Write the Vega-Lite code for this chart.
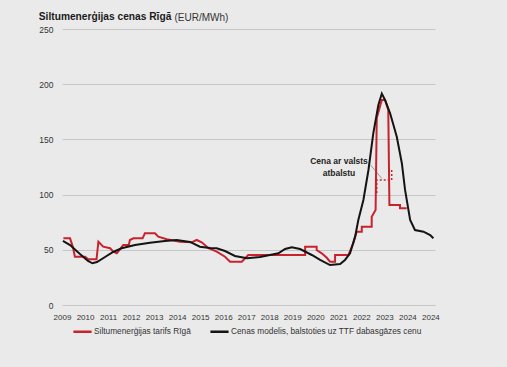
{
  "$schema": "https://vega.github.io/schema/vega-lite/v6.json",
  "width": 373,
  "height": 276,
  "autosize": {"type": "none"},
  "padding": {"left": 62, "top": 29, "right": 72, "bottom": 62},
  "background": "#eaeaea",
  "config": {
    "view": {"stroke": null},
    "font": "Liberation Sans",
    "axis": {"labelFont": "Liberation Sans", "labelColor": "#333333", "labelFontSize": 8.5, "ticks": false, "domain": false}
  },
  "title": {
    "text": "Siltumenerģijas cenas Rīgā",
    "anchor": "start",
    "frame": "bounds",
    "fontSize": 10.2,
    "fontWeight": "bold",
    "color": "#1a1a1a",
    "font": "Liberation Sans",
    "offset": -10
  },
  "datasets": {
    "lines": [
      {"s": "Siltumenerģijas tarifs Rīgā", "i": 1, "t": 0.06, "v": 60.4},
      {"s": "Siltumenerģijas tarifs Rīgā", "i": 2, "t": 0.35, "v": 60.4},
      {"s": "Siltumenerģijas tarifs Rīgā", "i": 3, "t": 0.48, "v": 52},
      {"s": "Siltumenerģijas tarifs Rīgā", "i": 4, "t": 0.56, "v": 43.7},
      {"s": "Siltumenerģijas tarifs Rīgā", "i": 5, "t": 1.0, "v": 43.7},
      {"s": "Siltumenerģijas tarifs Rīgā", "i": 6, "t": 1.14, "v": 41.4},
      {"s": "Siltumenerģijas tarifs Rīgā", "i": 7, "t": 1.5, "v": 41.4},
      {"s": "Siltumenerģijas tarifs Rīgā", "i": 8, "t": 1.58, "v": 57.3},
      {"s": "Siltumenerģijas tarifs Rīgā", "i": 9, "t": 1.79, "v": 52.8},
      {"s": "Siltumenerģijas tarifs Rīgā", "i": 10, "t": 2.09, "v": 51.4},
      {"s": "Siltumenerģijas tarifs Rīgā", "i": 11, "t": 2.23, "v": 48.3},
      {"s": "Siltumenerģijas tarifs Rīgā", "i": 12, "t": 2.38, "v": 46.8},
      {"s": "Siltumenerģijas tarifs Rīgā", "i": 13, "t": 2.66, "v": 54.3},
      {"s": "Siltumenerģijas tarifs Rīgā", "i": 14, "t": 2.9, "v": 54.3},
      {"s": "Siltumenerģijas tarifs Rīgā", "i": 15, "t": 2.95, "v": 58.9},
      {"s": "Siltumenerģijas tarifs Rīgā", "i": 16, "t": 3.1, "v": 60.4},
      {"s": "Siltumenerģijas tarifs Rīgā", "i": 17, "t": 3.5, "v": 60.4},
      {"s": "Siltumenerģijas tarifs Rīgā", "i": 18, "t": 3.6, "v": 64.9},
      {"s": "Siltumenerģijas tarifs Rīgā", "i": 19, "t": 4.04, "v": 64.9},
      {"s": "Siltumenerģijas tarifs Rīgā", "i": 20, "t": 4.18, "v": 61.9},
      {"s": "Siltumenerģijas tarifs Rīgā", "i": 21, "t": 4.55, "v": 59.5},
      {"s": "Siltumenerģijas tarifs Rīgā", "i": 22, "t": 5.13, "v": 57.3},
      {"s": "Siltumenerģijas tarifs Rīgā", "i": 23, "t": 5.63, "v": 56.8},
      {"s": "Siltumenerģijas tarifs Rīgā", "i": 24, "t": 5.85, "v": 58.9},
      {"s": "Siltumenerģijas tarifs Rīgā", "i": 25, "t": 6.07, "v": 56.8},
      {"s": "Siltumenerģijas tarifs Rīgā", "i": 26, "t": 6.36, "v": 51.4},
      {"s": "Siltumenerģijas tarifs Rīgā", "i": 27, "t": 6.72, "v": 48.3},
      {"s": "Siltumenerģijas tarifs Rīgā", "i": 28, "t": 7.08, "v": 43.7},
      {"s": "Siltumenerģijas tarifs Rīgā", "i": 29, "t": 7.3, "v": 39.2},
      {"s": "Siltumenerģijas tarifs Rīgā", "i": 30, "t": 7.81, "v": 39.2},
      {"s": "Siltumenerģijas tarifs Rīgā", "i": 31, "t": 8.02, "v": 43.7},
      {"s": "Siltumenerģijas tarifs Rīgā", "i": 32, "t": 8.09, "v": 45.3},
      {"s": "Siltumenerģijas tarifs Rīgā", "i": 33, "t": 10.56, "v": 45.3},
      {"s": "Siltumenerģijas tarifs Rīgā", "i": 34, "t": 10.56, "v": 52.8},
      {"s": "Siltumenerģijas tarifs Rīgā", "i": 35, "t": 11.06, "v": 52.8},
      {"s": "Siltumenerģijas tarifs Rīgā", "i": 36, "t": 11.06, "v": 49.8},
      {"s": "Siltumenerģijas tarifs Rīgā", "i": 37, "t": 11.28, "v": 46.8},
      {"s": "Siltumenerģijas tarifs Rīgā", "i": 38, "t": 11.5, "v": 42.8},
      {"s": "Siltumenerģijas tarifs Rīgā", "i": 39, "t": 11.64, "v": 39.2},
      {"s": "Siltumenerģijas tarifs Rīgā", "i": 40, "t": 11.86, "v": 39.2},
      {"s": "Siltumenerģijas tarifs Rīgā", "i": 41, "t": 11.86, "v": 45.3},
      {"s": "Siltumenerģijas tarifs Rīgā", "i": 42, "t": 12.44, "v": 45.3},
      {"s": "Siltumenerģijas tarifs Rīgā", "i": 43, "t": 12.65, "v": 55.9},
      {"s": "Siltumenerģijas tarifs Rīgā", "i": 44, "t": 12.8, "v": 66.4},
      {"s": "Siltumenerģijas tarifs Rīgā", "i": 45, "t": 13.02, "v": 66.4},
      {"s": "Siltumenerģijas tarifs Rīgā", "i": 46, "t": 13.02, "v": 70.9},
      {"s": "Siltumenerģijas tarifs Rīgā", "i": 47, "t": 13.45, "v": 70.9},
      {"s": "Siltumenerģijas tarifs Rīgā", "i": 48, "t": 13.45, "v": 80},
      {"s": "Siltumenerģijas tarifs Rīgā", "i": 49, "t": 13.62, "v": 86},
      {"s": "Siltumenerģijas tarifs Rīgā", "i": 50, "t": 13.67, "v": 169.4},
      {"s": "Siltumenerģijas tarifs Rīgā", "i": 51, "t": 13.89, "v": 185.7},
      {"s": "Siltumenerģijas tarifs Rīgā", "i": 52, "t": 14.03, "v": 185.7},
      {"s": "Siltumenerģijas tarifs Rīgā", "i": 53, "t": 14.17, "v": 176.6},
      {"s": "Siltumenerģijas tarifs Rīgā", "i": 54, "t": 14.22, "v": 90.6},
      {"s": "Siltumenerģijas tarifs Rīgā", "i": 55, "t": 14.68, "v": 90.6},
      {"s": "Siltumenerģijas tarifs Rīgā", "i": 56, "t": 14.68, "v": 87.6},
      {"s": "Siltumenerģijas tarifs Rīgā", "i": 57, "t": 14.97, "v": 87.6},
      {"s": "Cenas modelis, balstoties uz TTF dabasgāzes cenu", "i": 1, "t": 0.04, "v": 58},
      {"s": "Cenas modelis, balstoties uz TTF dabasgāzes cenu", "i": 2, "t": 0.35, "v": 54.3},
      {"s": "Cenas modelis, balstoties uz TTF dabasgāzes cenu", "i": 3, "t": 0.78, "v": 46.2},
      {"s": "Cenas modelis, balstoties uz TTF dabasgāzes cenu", "i": 4, "t": 1.13, "v": 39.9},
      {"s": "Cenas modelis, balstoties uz TTF dabasgāzes cenu", "i": 5, "t": 1.32, "v": 37.8},
      {"s": "Cenas modelis, balstoties uz TTF dabasgāzes cenu", "i": 6, "t": 1.52, "v": 38.9},
      {"s": "Cenas modelis, balstoties uz TTF dabasgāzes cenu", "i": 7, "t": 1.87, "v": 43.5},
      {"s": "Cenas modelis, balstoties uz TTF dabasgāzes cenu", "i": 8, "t": 2.22, "v": 48},
      {"s": "Cenas modelis, balstoties uz TTF dabasgāzes cenu", "i": 9, "t": 2.59, "v": 51.4},
      {"s": "Cenas modelis, balstoties uz TTF dabasgāzes cenu", "i": 10, "t": 3.17, "v": 54.3},
      {"s": "Cenas modelis, balstoties uz TTF dabasgāzes cenu", "i": 11, "t": 3.82, "v": 56.3},
      {"s": "Cenas modelis, balstoties uz TTF dabasgāzes cenu", "i": 12, "t": 4.47, "v": 58},
      {"s": "Cenas modelis, balstoties uz TTF dabasgāzes cenu", "i": 13, "t": 4.98, "v": 58.9},
      {"s": "Cenas modelis, balstoties uz TTF dabasgāzes cenu", "i": 14, "t": 5.56, "v": 57.1},
      {"s": "Cenas modelis, balstoties uz TTF dabasgāzes cenu", "i": 15, "t": 5.99, "v": 52.8},
      {"s": "Cenas modelis, balstoties uz TTF dabasgāzes cenu", "i": 16, "t": 6.43, "v": 51.6},
      {"s": "Cenas modelis, balstoties uz TTF dabasgāzes cenu", "i": 17, "t": 6.72, "v": 51.4},
      {"s": "Cenas modelis, balstoties uz TTF dabasgāzes cenu", "i": 18, "t": 7.08, "v": 48.9},
      {"s": "Cenas modelis, balstoties uz TTF dabasgāzes cenu", "i": 19, "t": 7.51, "v": 44.4},
      {"s": "Cenas modelis, balstoties uz TTF dabasgāzes cenu", "i": 20, "t": 8.04, "v": 42.3},
      {"s": "Cenas modelis, balstoties uz TTF dabasgāzes cenu", "i": 21, "t": 8.6, "v": 43.5},
      {"s": "Cenas modelis, balstoties uz TTF dabasgāzes cenu", "i": 22, "t": 9.4, "v": 46.8},
      {"s": "Cenas modelis, balstoties uz TTF dabasgāzes cenu", "i": 23, "t": 9.69, "v": 50.7},
      {"s": "Cenas modelis, balstoties uz TTF dabasgāzes cenu", "i": 24, "t": 9.98, "v": 52.3},
      {"s": "Cenas modelis, balstoties uz TTF dabasgāzes cenu", "i": 25, "t": 10.34, "v": 50.7},
      {"s": "Cenas modelis, balstoties uz TTF dabasgāzes cenu", "i": 26, "t": 10.85, "v": 45.3},
      {"s": "Cenas modelis, balstoties uz TTF dabasgāzes cenu", "i": 27, "t": 11.21, "v": 40.8},
      {"s": "Cenas modelis, balstoties uz TTF dabasgāzes cenu", "i": 28, "t": 11.64, "v": 36.2},
      {"s": "Cenas modelis, balstoties uz TTF dabasgāzes cenu", "i": 29, "t": 12.08, "v": 37.1},
      {"s": "Cenas modelis, balstoties uz TTF dabasgāzes cenu", "i": 30, "t": 12.29, "v": 40.8},
      {"s": "Cenas modelis, balstoties uz TTF dabasgāzes cenu", "i": 31, "t": 12.51, "v": 46.8},
      {"s": "Cenas modelis, balstoties uz TTF dabasgāzes cenu", "i": 32, "t": 12.73, "v": 61.9},
      {"s": "Cenas modelis, balstoties uz TTF dabasgāzes cenu", "i": 33, "t": 12.87, "v": 77},
      {"s": "Cenas modelis, balstoties uz TTF dabasgāzes cenu", "i": 34, "t": 13.09, "v": 95.1},
      {"s": "Cenas modelis, balstoties uz TTF dabasgāzes cenu", "i": 35, "t": 13.31, "v": 122.3},
      {"s": "Cenas modelis, balstoties uz TTF dabasgāzes cenu", "i": 36, "t": 13.52, "v": 155.5},
      {"s": "Cenas modelis, balstoties uz TTF dabasgāzes cenu", "i": 37, "t": 13.74, "v": 181.2},
      {"s": "Cenas modelis, balstoties uz TTF dabasgāzes cenu", "i": 38, "t": 13.89, "v": 191.5},
      {"s": "Cenas modelis, balstoties uz TTF dabasgāzes cenu", "i": 39, "t": 14.03, "v": 185.7},
      {"s": "Cenas modelis, balstoties uz TTF dabasgāzes cenu", "i": 40, "t": 14.25, "v": 173.6},
      {"s": "Cenas modelis, balstoties uz TTF dabasgāzes cenu", "i": 41, "t": 14.54, "v": 152.4},
      {"s": "Cenas modelis, balstoties uz TTF dabasgāzes cenu", "i": 42, "t": 14.76, "v": 128.4},
      {"s": "Cenas modelis, balstoties uz TTF dabasgāzes cenu", "i": 43, "t": 14.9, "v": 104.2},
      {"s": "Cenas modelis, balstoties uz TTF dabasgāzes cenu", "i": 44, "t": 15.12, "v": 77},
      {"s": "Cenas modelis, balstoties uz TTF dabasgāzes cenu", "i": 45, "t": 15.33, "v": 67.9},
      {"s": "Cenas modelis, balstoties uz TTF dabasgāzes cenu", "i": 46, "t": 15.7, "v": 66.4},
      {"s": "Cenas modelis, balstoties uz TTF dabasgāzes cenu", "i": 47, "t": 15.99, "v": 63.4},
      {"s": "Cenas modelis, balstoties uz TTF dabasgāzes cenu", "i": 48, "t": 16.13, "v": 60.4}
    ],
    "support": [
      {"i": 1, "t": 13.67, "v": 101.4},
      {"i": 2, "t": 13.67, "v": 113.2},
      {"i": 3, "t": 14.32, "v": 113.2},
      {"i": 4, "t": 14.32, "v": 122.3}
    ],
    "leader": [
      {"i": 1, "t": 13.41, "v": 126.6},
      {"i": 2, "t": 13.89, "v": 114.6}
    ],
    "notes": [
      {"t": 12.03, "v": 130.5, "text": "Cena ar valsts"},
      {"t": 12.03, "v": 120, "text": "atbalstu"}
    ]
  },
  "encoding": {
    "x": {
      "field": "t", "type": "quantitative",
      "scale": {"domain": [0, 16.2], "nice": false, "zero": false},
      "axis": {
        "title": null, "grid": false,
        "values": [0, 1, 2, 3, 4, 5, 6, 7, 8, 9, 10, 11, 12, 13, 14, 15, 16],
        "labelExpr": "datum.value == 16 ? '2024' : format(2009 + datum.value, 'd')",
        "labelFontSize": 8, "labelPadding": 8, "labelFlush": false, "labelOverlap": false, "labelSeparation": 0
      }
    },
    "y": {
      "field": "v", "type": "quantitative",
      "scale": {"domain": [0, 250], "nice": false},
      "axis": {
        "values": [0, 50, 100, 150, 200, 250],
        "grid": true, "gridColor": "#c6c6c6", "gridWidth": 1,
        "labelPadding": 9,
        "title": "(EUR/MWh)", "titleAngle": 0, "titleX": 112, "titleY": -9,
        "titleAlign": "left", "titleBaseline": "alphabetic",
        "titleFontWeight": "normal", "titleFontSize": 10, "titleColor": "#333333",
        "titleFont": "Liberation Sans"
      }
    }
  },
  "layer": [
    {
      "data": {"name": "support"},
      "mark": {"type": "line", "color": "#c8232c", "strokeWidth": 1.5, "strokeDash": [2, 2]},
      "encoding": {"order": {"field": "i"}}
    },
    {
      "data": {"name": "leader"},
      "mark": {"type": "line", "color": "#999999", "strokeWidth": 1},
      "encoding": {"order": {"field": "i"}}
    },
    {
      "data": {"name": "lines"},
      "mark": {"type": "line", "strokeWidth": 2, "strokeJoin": "miter"},
      "encoding": {
        "color": {
          "field": "s", "type": "nominal",
          "scale": {
            "domain": ["Siltumenerģijas tarifs Rīgā", "Cenas modelis, balstoties uz TTF dabasgāzes cenu"],
            "range": ["#c8232c", "#141414"]
          },
          "legend": {
            "title": null, "orient": "none", "legendX": 10, "legendY": 292, "direction": "horizontal",
            "symbolType": "stroke", "symbolStrokeWidth": 2.5, "symbolSize": 330,
            "labelFontSize": 8.3, "labelColor": "#333333", "labelFont": "Liberation Sans",
            "labelLimit": 400, "labelOffset": 1, "columnPadding": 14
          }
        },
        "order": {"field": "i"}
      }
    },
    {
      "data": {"name": "notes"},
      "mark": {"type": "text", "fontWeight": "bold", "fontSize": 8.5, "color": "#222222", "align": "center", "baseline": "middle", "font": "Liberation Sans"},
      "encoding": {"text": {"field": "text"}}
    }
  ]
}
